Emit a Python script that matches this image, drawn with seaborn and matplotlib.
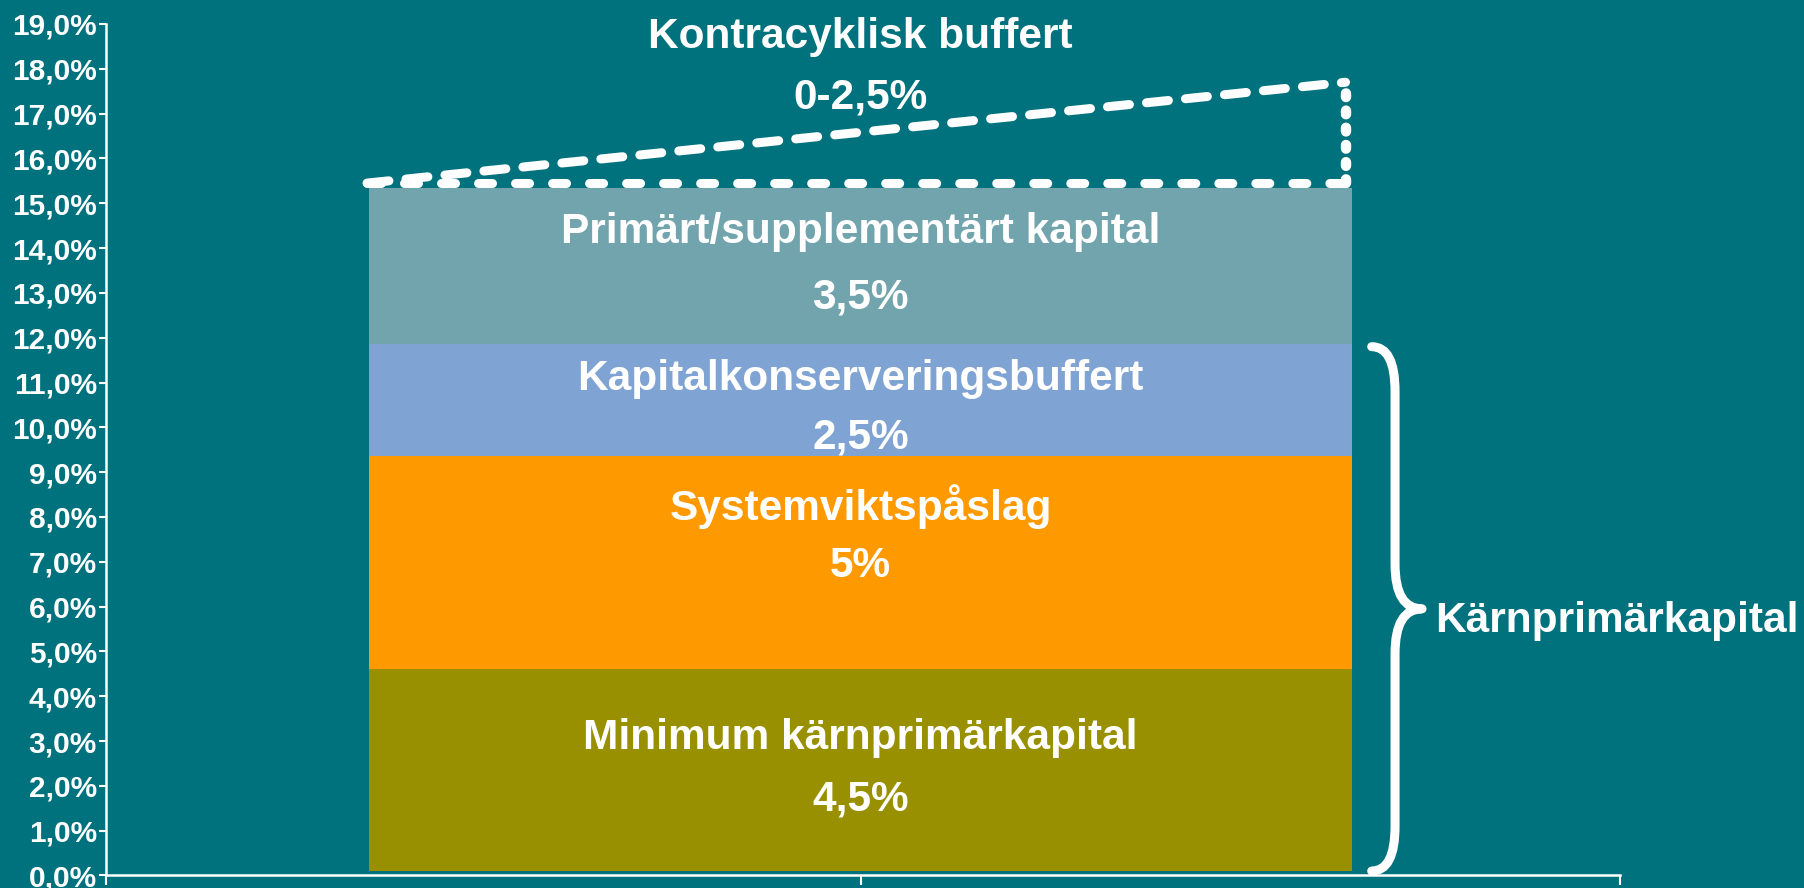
import numpy as np
import pandas as pd
import matplotlib
matplotlib.use("Agg")
import matplotlib.pyplot as plt
import seaborn as sns
from matplotlib.path import Path
from matplotlib.patches import PathPatch
from matplotlib.ticker import FuncFormatter

# ---------------- data ----------------
category = ["Kapitalkrav"]
segments = ["Minimum kärnprimärkapital", "Systemviktspåslag",
            "Kapitalkonserveringsbuffert", "Primärt/supplementärt kapital"]
value_labels = ["4,5%", "5%", "2,5%", "3,5%"]
heights = [4.5, 4.75, 2.5, 3.5]
stack_base = 0.1
ccyb_title = "Kontracyklisk buffert"
ccyb_label = "0-2,5%"
ccyb_range = [0.0, 2.25]
brace_label = "Kärnprimärkapital"
brace_segments = 3
y_ticks = list(range(0, 20))

# ---------------- style / layout ----------------
BG = "#00727E"
colors = ["#999000", "#FF9900", "#7FA3D3", "#71A4AC"]
title_baselines = [2.82, 7.93, 10.83, 14.12]
value_baselines = [1.46, 6.65, 9.52, 12.65]
FS = 30.5

sns.set_theme(style="white")
plt.rcParams["font.family"] = ["Liberation Sans", "DejaVu Sans"]
plt.rcParams["font.weight"] = "bold"

fig = plt.figure(figsize=(18.04, 8.88), dpi=100, facecolor=BG)
ax = fig.add_axes([0.05876, 0.01408, 0.8392, 0.9589])
ax.set_facecolor(BG)

bottoms = stack_base + np.concatenate([[0.0], np.cumsum(heights)[:-1]])
for seg, h, b, c in zip(segments, heights, bottoms, colors):
    df = pd.DataFrame({"cat": category, "val": [h]})
    sns.barplot(data=df, x="cat", y="val", bottom=b, color=c, width=0.8,
                saturation=1, linewidth=0, errorbar=None, ax=ax)

xl_lim, xr_lim = -0.614, 0.618
ax.set_xlim(xl_lim, xr_lim)
ax.set_ylim(0, 19)
ax.set_xlabel("")
ax.set_ylabel("")
ax.set_xticks([xl_lim, 0, xr_lim])
ax.set_xticklabels(["", "", ""])
ax.set_yticks(y_ticks)
ax.yaxis.set_major_formatter(FuncFormatter(lambda v, p: f"{v:.1f}".replace(".", ",") + "%"))
ax.tick_params(axis="y", direction="out", length=5, width=1.5, color="white",
               labelcolor="white", labelsize=21.5, pad=1.5, left=True)
ax.tick_params(axis="x", direction="out", length=7, width=1.5, color="white",
               labelbottom=False, bottom=True)
for s in ["top", "right"]:
    ax.spines[s].set_visible(False)
for s in ["left", "bottom"]:
    ax.spines[s].set_color("white")
    ax.spines[s].set_linewidth(1.8)
for lbl in ax.get_yticklabels():
    lbl.set_fontweight("bold")

# segment labels
for seg, val, ty, vy in zip(segments, value_labels, title_baselines, value_baselines):
    ax.text(0, ty, seg, ha="center", va="baseline", color="white",
            fontsize=FS, fontweight="bold")
    ax.text(0, vy, val, ha="center", va="baseline", color="white",
            fontsize=FS, fontweight="bold")

# countercyclical buffer (dashed wedge)
top = stack_base + sum(heights)
y0 = top + 0.1 + ccyb_range[0]
y1 = top + 0.1 + ccyb_range[1]
xl, xr = -0.4016, 0.3947
kw = dict(color="white", dash_capstyle="round", solid_capstyle="round", clip_on=False)
ax.plot([xl, xr], [y0, y0], lw=6.5, ls=(0, (1.55, 2.55)), **kw)
ax.plot([xl, xr], [y0, y1], lw=6.5, ls=(0, (2.44, 1.9)), **kw)
ax.plot([xr, xr], [y0, y1], lw=7.5, ls=(0, (0.35, 1.3)), **kw)
ax.text(0, 18.46, ccyb_title, ha="center", va="baseline", color="white",
        fontsize=FS, fontweight="bold")
ax.text(0, 17.12, ccyb_label, ha="center", va="baseline", color="white",
        fontsize=FS, fontweight="bold")

# curly brace for core tier 1
bx0, bxs, bxt = 0.416, 0.435, 0.457
yb = stack_base
yt = stack_base + sum(heights[:brace_segments]) - 0.05
ym = (yb + yt) / 2
r = 1.0
verts = [(bx0, yt), (bxs, yt), (bxs, yt - r),
         (bxs, ym + r),
         (bxs, ym), (bxt, ym),
         (bxs, ym), (bxs, ym - r),
         (bxs, yb + r),
         (bxs, yb), (bx0, yb)]
codes = [Path.MOVETO, Path.CURVE3, Path.CURVE3,
         Path.LINETO,
         Path.CURVE3, Path.CURVE3,
         Path.CURVE3, Path.CURVE3,
         Path.LINETO,
         Path.CURVE3, Path.CURVE3]
ax.add_patch(PathPatch(Path(verts, codes), facecolor="none", edgecolor="white",
                       lw=6.5, capstyle="round", joinstyle="round", clip_on=False))
ax.text(0.468, 5.44, brace_label, ha="left", va="baseline", color="white",
        fontsize=FS, fontweight="bold")

fig.savefig("out.png", dpi=100, facecolor=BG)
